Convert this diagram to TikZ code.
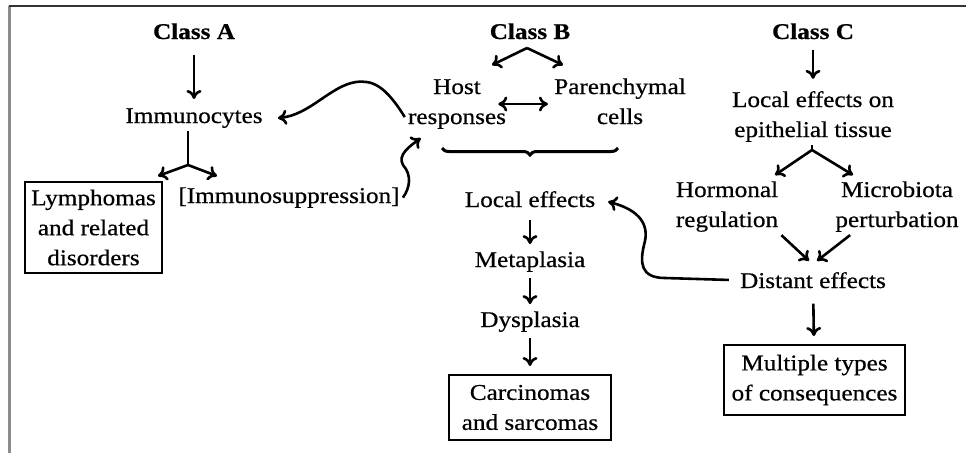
\documentclass[tikz,border=0pt]{standalone}
\usepackage{fontspec}
\setmainfont{Liberation Serif}[FakeStretch=1.12,FakeBold=0.6]
\usetikzlibrary{arrows.meta,decorations.pathreplacing}
\begin{document}
\begin{tikzpicture}[x=1pt,y=-1pt,>={To[length=9pt,width=15pt]},line width=2.6pt,
  label node/.style={font=\fontsize{22.5}{30}\selectfont,inner sep=2pt,align=center,anchor=base},
  class node/.style={label node,font=\fontsize{22.5}{30}\selectfont\bfseries},
  box node/.style={draw,line width=2pt,inner sep=2pt,align=center,font=\fontsize{22.5}{30}\selectfont}]
\useasboundingbox (0,0) rectangle (966,453);
\draw[line width=2.5pt,black!45] (9.5,5.5) -- (9.5,453);
\draw[line width=1.6pt,black!80] (8.5,6) -- (966,6);
% class A
\node[class node] (ca) at (194,39) {Class A};
\node[label node] (imm) at (194,123) {Immunocytes};
\node[box node,minimum width=137pt,minimum height=91pt] (lym) at (93.5,227.5) {Lymphomas\\and related\\disorders};
\node[label node] (sup) at (289,203) {[Immunosuppression]};
% class B
\node[class node] (cb) at (530,39) {Class B};
\node[label node] (host) at (457,124) {Host\\responses};
\node[label node] (par) at (620,124) {Parenchymal\\cells};
\node[label node] (locb) at (530,207) {Local effects};
\node[label node] (met) at (530,267) {Metaplasia};
\node[label node] (dys) at (530,327) {Dysplasia};
\node[box node,minimum width=162pt,minimum height=65pt] (car) at (530,407.5) {Carcinomas\\and sarcomas};
% class C
\node[class node] (cc) at (813,39) {Class C};
\node[label node] (locc) at (813,137) {Local effects on\\epithelial tissue};
\node[label node] (hor) at (727,227) {Hormonal\\regulation};
\node[label node] (mic) at (897,227) {Microbiota\\perturbation};
\node[label node] (dis) at (813,288) {Distant effects};
\node[box node,minimum width=181pt,minimum height=70pt] (mul) at (814.5,380) {Multiple types\\of consequences};
% fork points and free ends
\coordinate (fa) at (188,165);
\coordinate (fa1) at (158,176);
\coordinate (fa2) at (217,176);
\coordinate (fb) at (527,48);
\coordinate (fb1) at (492,65);
\coordinate (fb2) at (563,65);
\coordinate (fc) at (812,150);
\coordinate (fc1) at (775,175);
\coordinate (fc2) at (853,175);
\begin{scope}[every edge/.style={draw,->}]
\draw (ca) edge[shorten <=12pt,shorten >=6pt] (imm);
\draw (imm.south -| fa) -- (fa);
\draw (fa) edge (fa1) (fa) edge (fa2);
\draw (fb) edge (fb1) (fb) edge (fb2);
\draw[<->,shorten >=3pt] ([xshift=-11pt]host.east) -- (host.east -| par.west);
\draw (locb) edge[shorten <=9pt,shorten >=4pt] (met);
\draw (met) edge[shorten <=3pt,shorten >=4pt] (dys);
\draw (dys) edge[shorten <=3pt,shorten >=8pt] (car);
\draw (cc) edge[shorten <=7pt,shorten >=9pt] (locc);
\draw (locc.south -| fc) -- (fc);
\draw (fc) edge (fc1) (fc) edge (fc2);
\draw (hor.south east) edge ([xshift=-4pt,yshift=8pt]dis.north);
\draw ([xshift=18pt]mic.south west) edge ([xshift=4pt,yshift=8pt]dis.north);
\draw (dis) edge[shorten <=12pt,shorten >=8pt] (mul);
\end{scope}
% curved connectors
\draw[->] ([yshift=-13pt]host.west) .. controls (385,85) and (372,80) .. (356,82) .. controls (330,86) and (310,115) .. ([xshift=12pt]imm.east);
\draw[->] (sup.east) .. controls (410,188) and (412,175) .. (403,165) .. controls (397,155) and (410,146) .. ([xshift=16pt,yshift=-6pt]host.south west);
\draw[->,shorten <=8pt,shorten >=10pt] (dis.west) -- (665,278) .. controls (640,278) and (640,262) .. (644,245) .. controls (650,225) and (640,210) .. (locb.east);
% brace
\draw[line width=3pt,decorate,decoration={brace,mirror,amplitude=7pt}] (442,148) -- (618,148);
\end{tikzpicture}
\end{document}
